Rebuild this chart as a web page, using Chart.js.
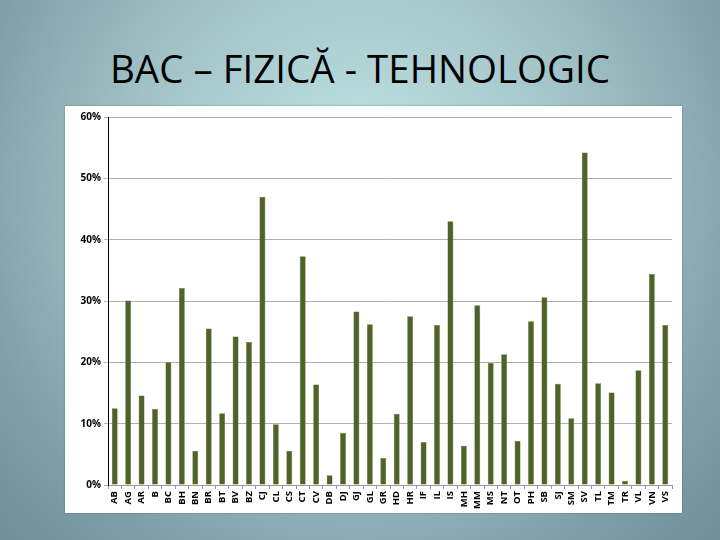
<!DOCTYPE html>
<html>
<head>
    <title>BAC - Fizica - Tehnologic</title>
    <script src="https://cdn.jsdelivr.net/npm/chart.js@4.4.0/dist/chart.umd.min.js"></script>
    <style>
        body {
            margin: 0;
            width: 720px;
            height: 540px;
            overflow: hidden;
            background: radial-gradient(ellipse 70% 95% at 50% 35%, #c3e6e8 0%, #a2c4c8 45%, #7e9ea6 80%, #6f8e98 100%);
            font-family: "Open Sans", sans-serif;
        }
        #title {
            position: absolute;
            left: 0;
            top: 42px;
            width: 720px;
            text-align: center;
            font-size: 38.5px;
            color: #000;
        }
        #panel {
            position: absolute;
            left: 65px;
            top: 106px;
            width: 617px;
            height: 407px;
            background: #fff;
            box-shadow: 0 0 2px rgba(0,0,0,0.3);
        }
    </style>
</head>
<body>
    <div id="title">BAC – FIZICĂ - TEHNOLOGIC</div>
    <div id="panel">
        <canvas id="barChart" width="617" height="407"></canvas>
    </div>

    <script>
        // judete
        const counties = ['AB','AG','AR','B','BC','BH','BN','BR','BT','BV','BZ','CJ','CL','CS','CT','CV','DB','DJ','GJ','GL',
            'GR','HD','HR','IF','IL','IS','MH','MM','MS','NT','OT','PH','SB','SJ','SM','SV','TL','TM','TR','VL','VN','VS'];
        // procent (%)
        const percents = [12.5, 30.1, 14.6, 12.4, 20.0, 32.1, 5.6, 25.5, 11.7, 24.2, 23.3, 47.0, 9.9, 5.6, 37.3, 16.4, 1.6, 8.5, 28.3, 26.2,
            4.4, 11.6, 27.5, 7.0, 26.1, 43.0, 6.4, 29.3, 19.9, 21.3, 7.2, 26.7, 30.6, 16.5, 10.9, 54.2, 16.6, 15.1, 0.7, 18.7, 34.4, 26.1];
        const yTicks = [0, 10, 20, 30, 40, 50, 60];

        const ctx = document.getElementById('barChart').getContext('2d');

        new Chart(ctx, {
            type: 'bar',
            data: {
                labels: counties,
                datasets: [{
                    data: percents,
                    backgroundColor: '#4f6228',
                    borderColor: '#5d7233',
                    borderWidth: 0.5,
                    barPercentage: 0.44,
                    categoryPercentage: 1.0
                }]
            },
            options: {
                responsive: false,
                animation: false,
                layout: { padding: { top: 11, right: 10, left: 0, bottom: 0 } },
                plugins: {
                    legend: { display: false },
                    tooltip: { enabled: false }
                },
                scales: {
                    x: {
                        grid: { offset: true, drawOnChartArea: false, drawTicks: true, tickLength: 4, color: '#999' },
                        border: { color: '#999' },
                        ticks: { font: { family: 'Open Sans', size: 9.5, weight: 'bold' }, color: '#000', minRotation: 90, maxRotation: 90, autoSkip: false, padding: 2 },
                        afterFit: scale => { scale.height = 28; }
                    },
                    y: {
                        min: 0,
                        max: 60,
                        afterBuildTicks: scale => { scale.ticks = yTicks.map(v => ({ value: v })); },
                        grid: { color: '#b0b0b0', tickLength: 4, drawTicks: true },
                        border: { color: '#000' },
                        ticks: { font: { family: 'Open Sans', size: 10, weight: 'bold' }, color: '#000', callback: v => v + '%', padding: 3 },
                        afterFit: scale => { scale.width = 43; }
                    }
                }
            }
        });
    </script>
</body>
</html>
